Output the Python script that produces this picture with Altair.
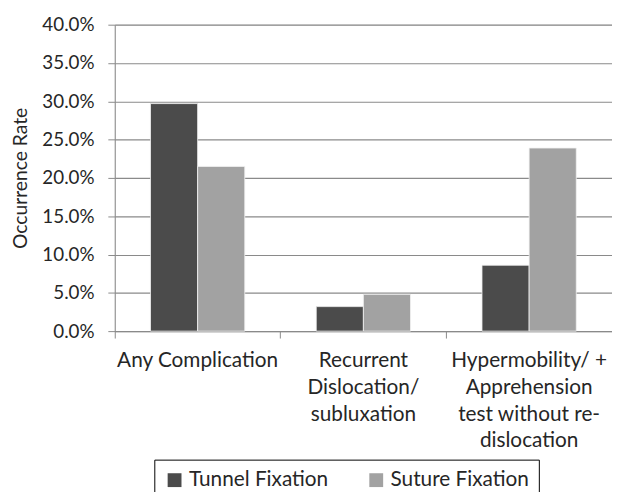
import altair as alt
import pandas as pd

# ---- data ----
categories = [
    "Any Complication",
    "Recurrent|Dislocation/|subluxation",
    "Hypermobility/ +|Apprehension|test without re-|dislocation",
]
series = ["Tunnel Fixation", "Suture Fixation"]
tunnel_values = [0.297, 0.032, 0.086]
suture_values = [0.215, 0.048, 0.239]
series_colors = ["#4b4b4b", "#a2a2a2"]
y_tick_values = [0.0, 0.05, 0.10, 0.15, 0.20, 0.25, 0.30, 0.35, 0.40]

rows = []
for cat, t, s in zip(categories, tunnel_values, suture_values):
    rows.append({"cat": cat, "series": series[0], "value": t})
    rows.append({"cat": cat, "series": series[1], "value": s})
df = pd.DataFrame(rows)

FONT = "Lato"
FS = 19
FSX = 21
TXT = "#262626"
GRID = "#8a8a8a"

x_scale = alt.Scale(paddingInner=0, paddingOuter=0)

bars = alt.Chart(df).mark_bar(stroke="#f2f2f2", strokeWidth=0.8).encode(
    x=alt.X(
        "cat:N", sort=categories, scale=x_scale, title=None,
        axis=alt.Axis(
            orient="bottom",
            labelExpr="split(datum.label, '|')", labelAngle=0, ticks=False,
            domain=False, grid=False, labelFont=FONT, labelFontSize=FSX,
            labelColor=TXT, labelPadding=19, labelLineHeight=27, labelLimit=0,
        ),
    ),
    xOffset=alt.XOffset(
        "series:N", sort=series,
        scale=alt.Scale(paddingInner=0, paddingOuter=0.758),
    ),
    y=alt.Y(
        "value:Q", scale=alt.Scale(domain=[0, 0.4], nice=False),
        axis=alt.Axis(
            values=y_tick_values, format=".1%", grid=True, gridColor=GRID,
            gridWidth=1.2, domain=True, domainColor=GRID, ticks=True,
            tickColor=GRID, tickSize=7, labelFont=FONT, labelFontSize=FS,
            labelColor=TXT, labelPadding=14, title="Occurrence Rate",
            titleFont=FONT, titleFontSize=19.5, titleFontWeight="normal",
            titleColor=TXT, titlePadding=12,
        ),
    ),
    color=alt.Color(
        "series:N", sort=series, title=None,
        scale=alt.Scale(domain=series, range=series_colors),
        legend=alt.Legend(
            orient="none", legendX=40, legendY=440, direction="horizontal",
            strokeColor="black", fillColor="white", padding=10,
            symbolType="square", symbolSize=196, symbolStrokeWidth=0,
            labelFont=FONT, labelFontSize=FSX, labelColor=TXT, labelOffset=4,
            columnPadding=38, labelLimit=0,
        ),
    ),
)

tick_layer = alt.Chart(df).mark_bar(opacity=0).encode(
    x=alt.X(
        "cat:N", sort=categories, scale=x_scale, title=None,
        axis=alt.Axis(
            orient="bottom", labels=False, ticks=True, bandPosition=0,
            tickSize=7, tickColor=GRID, domain=True, domainColor=GRID,
            grid=False,
        ),
    ),
)

chart = (
    alt.layer(tick_layer, bars)
    .resolve_axis(x="independent")
    .properties(width=503, height=310, padding={"left": 2, "top": 5, "right": 0, "bottom": 0})
    .configure_view(stroke=None)
    .configure(background="white")
)

chart.save("out.html", embed_options={"renderer": "svg", "actions": False})
